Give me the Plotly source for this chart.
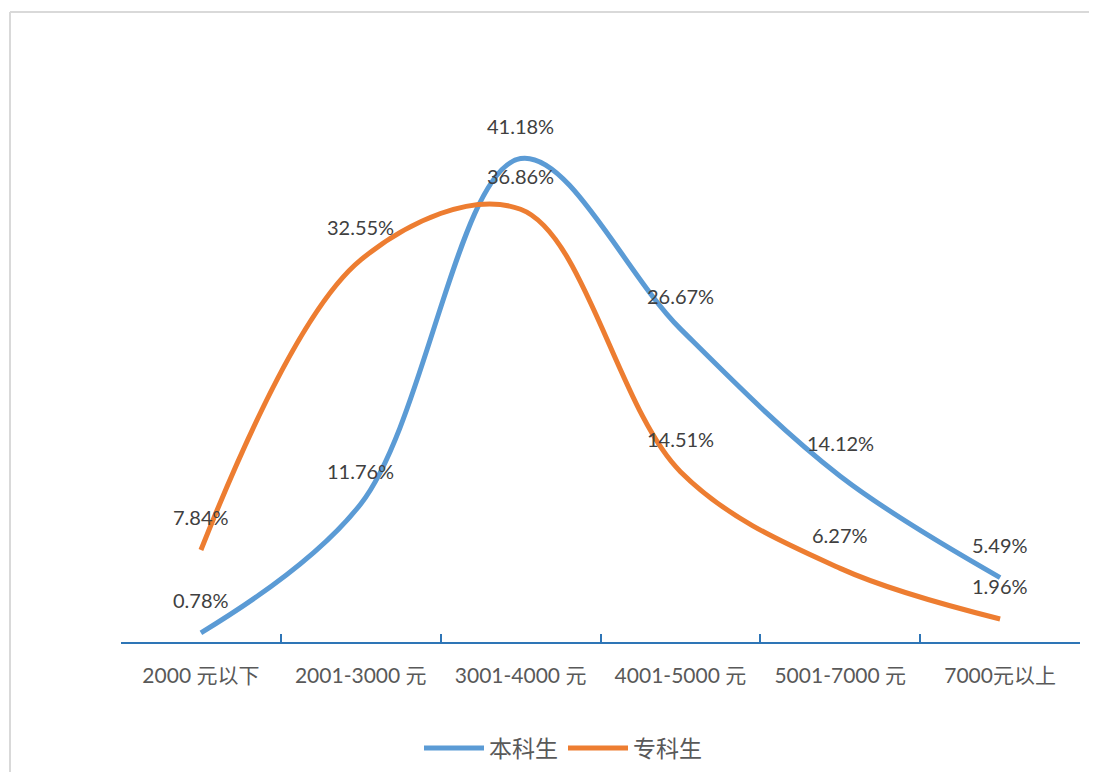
import plotly.graph_objects as go

categories = ["2000 元以下", "2001-3000 元", "3001-4000 元", "4001-5000 元", "5001-7000 元", "7000元以上"]
benke = [0.0078, 0.1176, 0.4118, 0.2667, 0.1412, 0.0549]
zhuanke = [0.0784, 0.3255, 0.3686, 0.1451, 0.0627, 0.0196]
benke_labels = ["0.78%", "11.76%", "41.18%", "26.67%", "14.12%", "5.49%"]
zhuanke_labels = ["7.84%", "32.55%", "36.86%", "14.51%", "6.27%", "1.96%"]

blue = "#5B9BD5"
orange = "#ED7D31"
OFF = 8  # page body margin
W, H = 1097 - 2 * OFF, 780 - 2 * OFF


def px(x):
    return (x - OFF) / W


def py(y):
    return (H - (y - OFF)) / H


fig = go.Figure()
fig.add_trace(go.Scatter(x=categories, y=benke, name="本科生", mode="lines",
                         line=dict(color=blue, width=5, shape="spline", smoothing=1.0)))
fig.add_trace(go.Scatter(x=categories, y=zhuanke, name="专科生", mode="lines",
                         line=dict(color=orange, width=5, shape="spline", smoothing=1.0)))

# data labels above each point
for vals, labs in [(benke, benke_labels), (zhuanke, zhuanke_labels)]:
    for c, v, t in zip(categories, vals, labs):
        fig.add_annotation(x=c, y=v, text=t, showarrow=False, yshift=33,
                           font=dict(size=20, color="#404040", family="Lato, Noto Sans CJK SC"))

# chart border (only top and left edges are in view)
border = dict(color="#D9D9D9", width=2)
fig.add_shape(type="line", xref="paper", yref="paper",
              x0=px(10), x1=1.3, y0=py(12), y1=py(12), line=border)
fig.add_shape(type="line", xref="paper", yref="paper",
              x0=px(10), x1=px(10), y0=-0.2, y1=py(12), line=border)

fig.update_layout(
    width=W, height=H,
    margin=dict(l=0, r=0, t=0, b=0),
    paper_bgcolor="white", plot_bgcolor="white",
    font=dict(family="Lato, Noto Sans CJK SC", color="#595959"),
    xaxis=dict(domain=[px(121), px(1080)], range=[-0.5, 5.5],
               showline=True, linecolor="#2E75B6", linewidth=2,
               ticks="inside", tickson="boundaries", ticklen=8, tickcolor="#2E75B6", tickwidth=2,
               ticklabelstandoff=14,
               tickfont=dict(size=21, color="#595959", family="Lato, Noto Sans CJK SC"),
               showgrid=False, zeroline=False),
    yaxis=dict(domain=[py(642), py(55)], range=[0, 0.5],
               visible=False, showgrid=False, zeroline=False),
    legend=dict(orientation="h", x=px(563), xanchor="center", y=py(748), yanchor="middle",
                font=dict(size=23, color="#595959", family="Noto Sans CJK SC"),
                itemwidth=60),
    showlegend=True,
)

fig.write_html("out.html")
